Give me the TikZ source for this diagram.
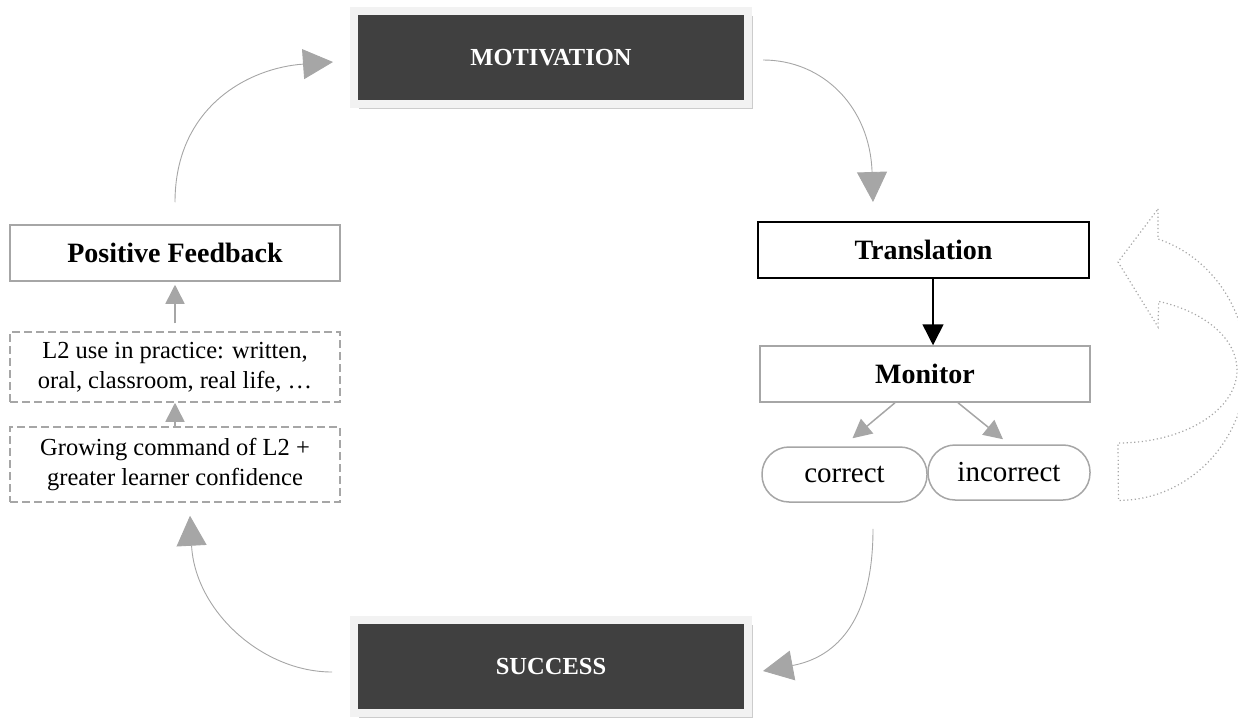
\documentclass[tikz,border=0pt]{standalone}
\usepackage{fontspec}
\setmainfont{Liberation Serif}
\usetikzlibrary{arrows.meta,shadows}
\definecolor{boxdark}{RGB}{64,64,64}
\definecolor{boxframe}{RGB}{242,242,242}
\definecolor{linegray}{RGB}{166,166,166}
\tikzset{every picture/.style={line width=0.75pt}}

\begin{document}
\begin{tikzpicture}[x=1pt,y=1pt,yscale=-1,xscale=1,
  stagebox/.style={fill=boxdark, draw=boxframe, line width=8pt, minimum width=394pt, minimum height=93pt, inner sep=0pt, text=white, font=\fontsize{24.5}{29}\selectfont\bfseries, drop shadow={shadow xshift=5pt, shadow yshift=-5pt, opacity=0.2, fill=black}},
  plainbox/.style={draw=linegray, line width=1.5pt, minimum width=330pt, minimum height=56pt, inner sep=0pt, font=\fontsize{28}{33}\selectfont\bfseries},
  dashbox/.style={draw=linegray, line width=1.5pt, dash pattern=on 8pt off 4pt, minimum width=330pt, inner sep=0pt, align=center, font=\fontsize{24.5}{30}\selectfont},
  pillbox/.style={draw=linegray, line width=1.5pt, rounded corners=27pt, minimum width=165pt, minimum height=55pt, inner sep=0pt, font=\fontsize{29}{34}\selectfont},
  grayarrow/.style={draw=linegray, line width=1.5pt, -{Triangle[length=19pt,width=19pt]}},
  blackarrow/.style={draw=black, line width=1.5pt, -{Triangle[length=21pt,width=21pt]}},
  curvearrow/.style={draw=linegray, line width=0.9pt, -{Triangle[length=30pt,width=30pt]}},
  dottedline/.style={draw=linegray, line width=1.2pt, dash pattern=on 1.2pt off 2.6pt}]
\useasboundingbox (0,0) rectangle (1238,719);

%Shape: Rectangle
\node[stagebox] (motiv) at (551,57.5) {MOTIVATION};
%Shape: Rectangle
\node[stagebox] (success) at (551,666.5) {SUCCESS};
%Shape: Rectangle
\node[plainbox] (feedback) at (175,253) {Positive Feedback};
%Shape: Rectangle
\node[dashbox, minimum height=70pt] (practice) at (175,367) {L2 use in practice: written,\\oral, classroom, real life, …};
%Shape: Rectangle
\node[dashbox, minimum height=75pt] (command) at (175,464.5) {Growing command of L2 +\\greater learner confidence};
%Shape: Rectangle
\node[plainbox, draw=black, line width=2pt, minimum width=331pt] (transl) at (923.5,250) {Translation};
%Shape: Rectangle
\node[plainbox] (monitor) at (925,374) {Monitor};
%Rounded Rect
\node[pillbox] (correct) at (844.5,474.5) {correct};
%Rounded Rect
\node[pillbox, minimum width=162pt] (incorrect) at (1009,472.5) {incorrect};

%Straight Lines
\draw[grayarrow, shorten >=3pt] ([yshift=-8pt]practice.north) -- (feedback.south);
\draw[grayarrow] (command.north) -- (practice.south);
\draw[blackarrow] ([xshift=9.5pt]transl.south) -- ([xshift=9.5pt]transl.south |- monitor.north);
\draw[grayarrow] ([xshift=-30pt]monitor.south) -- ([xshift=8pt,yshift=-8pt]correct.north);
\draw[grayarrow] ([xshift=33pt]monitor.south) -- ([xshift=-6pt,yshift=-5pt]incorrect.north);

%Curve Lines
\draw[curvearrow] ([yshift=-22pt]feedback.north) .. controls +(0,-95) and +(-85,6) .. ([xshift=-17pt,yshift=4.5pt]motiv.west);
\draw[curvearrow] ([xshift=11pt,yshift=2.5pt]motiv.east) .. controls +(60,0) and +(-3,-95) .. ([xshift=-50.5pt,yshift=-19pt]transl.north);
\draw[curvearrow] ([xshift=28.5pt,yshift=26pt]correct.south) .. controls +(0,90) and +(75,-14) .. ([xshift=11pt,yshift=4.5pt]success.east);
\draw[curvearrow] ([xshift=-18pt,yshift=5.5pt]success.west) .. controls +(-70,0) and +(5,95) .. ([xshift=15pt,yshift=13pt]command.south);

%Shape: Curved Left Arrow
\begin{scope}
\clip (0,0) rectangle (1238,719);
\draw[dottedline] (1158,209) -- (1158,239) arc[start angle=-72, end angle=90, x radius=128, y radius=134] -- (1118,443) arc[start angle=90, end angle=-70, x radius=119, y radius=73] -- (1158,327) -- (1118,262) -- cycle;
\end{scope}

\end{tikzpicture}
\end{document}
